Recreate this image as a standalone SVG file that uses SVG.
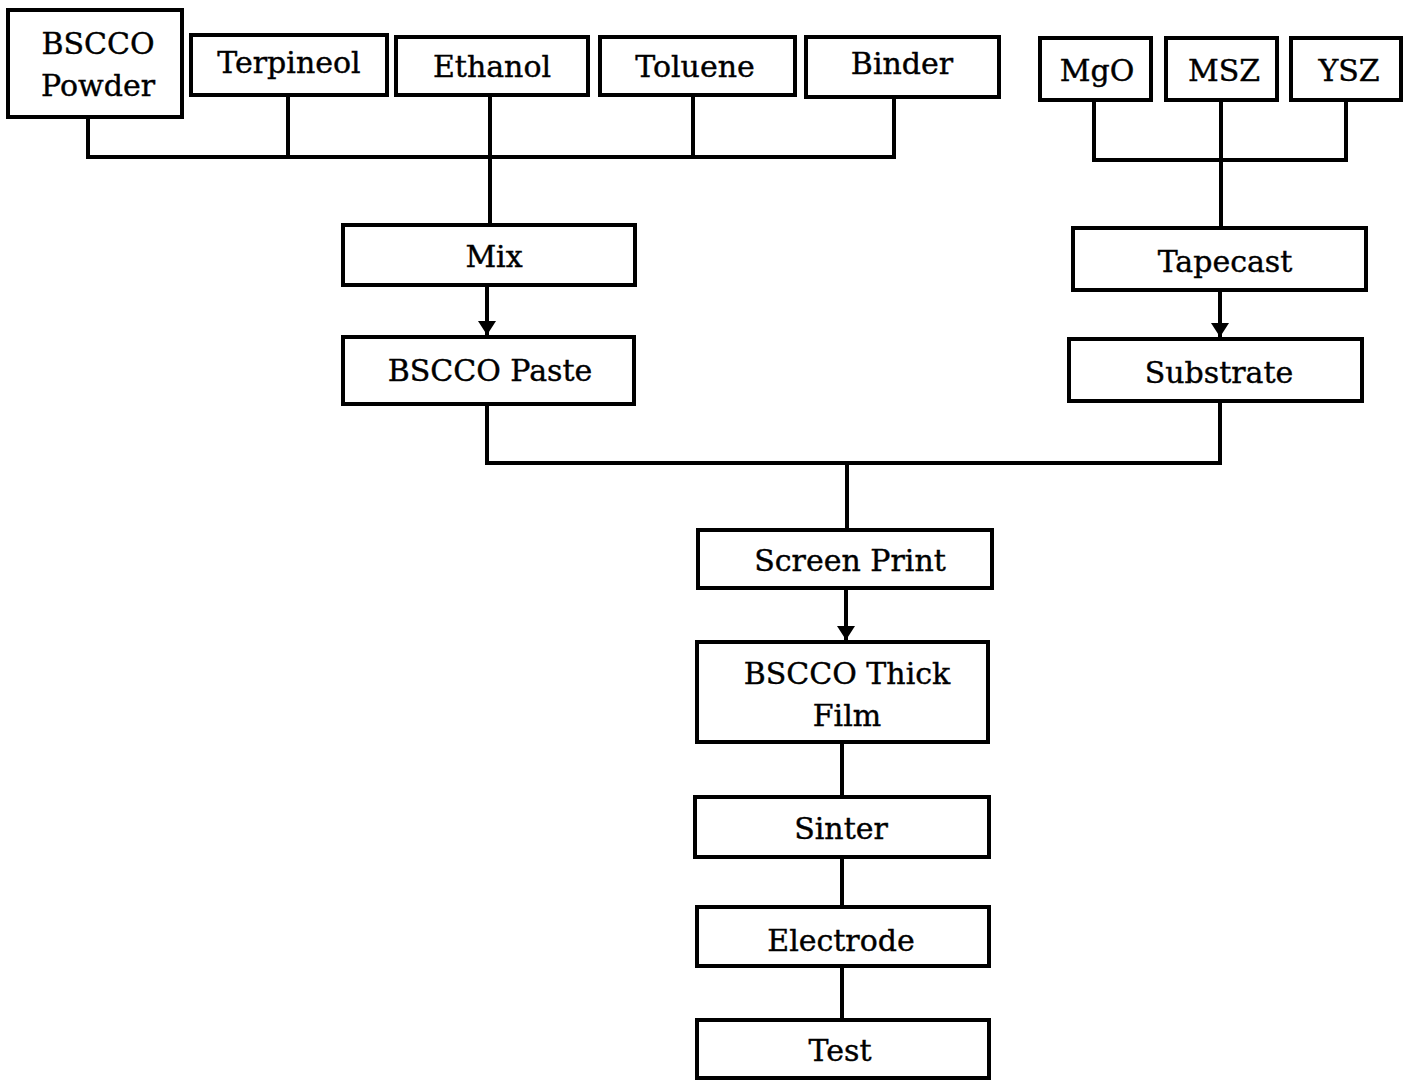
<svg xmlns="http://www.w3.org/2000/svg" width="1409" height="1081" viewBox="0 0 1409 1081">
<style>
.box{fill:#fff;stroke:#000;stroke-width:4}
.t{font-family:"DejaVu Serif","Liberation Serif",serif;font-size:30px;fill:#000;stroke:#000;stroke-width:0.4;text-anchor:middle}
.c{fill:none;stroke:#000;stroke-width:4}
</style>
<defs>
<marker id="ah" markerWidth="14" markerHeight="18" refX="14" refY="9" orient="auto" markerUnits="userSpaceOnUse">
<path d="M0,0 L14,9 L0,18 Z" fill="#000"/>
</marker>
</defs>
<rect width="1409" height="1081" fill="#fff"/>
<g id="connectors">
<path class="c" d="M88,117 V157 H894 V97 M288,95 V157 M693,95 V157 M490,95 V225"/>
<path class="c" d="M1094,100 V160 H1346 V100 M1221,100 V228"/>
<path class="c" d="M487,285 V335" marker-end="url(#ah)"/>
<path class="c" d="M1220,290 V337" marker-end="url(#ah)"/>
<path class="c" d="M487,404 V463 H1220 V401 M847,463 V530"/>
<path class="c" d="M846,588 V640" marker-end="url(#ah)"/>
<path class="c" d="M842,742 V797 M842,857 V907 M842,966 V1020"/>
</g>
<g id="bscco-powder"><rect class="box" x="8" y="10" width="174" height="107"/><text class="t" x="98" y="54">BSCCO</text><text class="t" x="98" y="96">Powder</text></g>
<g id="terpineol"><rect class="box" x="191" y="35" width="196" height="60"/><text class="t" x="289" y="73">Terpineol</text></g>
<g id="ethanol"><rect class="box" x="396" y="37" width="192" height="58"/><text class="t" x="492" y="77">Ethanol</text></g>
<g id="toluene"><rect class="box" x="600" y="37" width="195" height="58"/><text class="t" x="695" y="77">Toluene</text></g>
<g id="binder"><rect class="box" x="806" y="37" width="193" height="60"/><text class="t" x="902" y="74">Binder</text></g>
<g id="mgo"><rect class="box" x="1040" y="38" width="111" height="62"/><text class="t" x="1097" y="81">MgO</text></g>
<g id="msz"><rect class="box" x="1166" y="38" width="111" height="62"/><text class="t" x="1224" y="81">MSZ</text></g>
<g id="ysz"><rect class="box" x="1291" y="38" width="110" height="62"/><text class="t" x="1349" y="81">YSZ</text></g>
<g id="mix"><rect class="box" x="343" y="225" width="292" height="60"/><text class="t" x="494" y="267">Mix</text></g>
<g id="bscco-paste"><rect class="box" x="343" y="337" width="291" height="67"/><text class="t" x="490" y="381">BSCCO Paste</text></g>
<g id="tapecast"><rect class="box" x="1073" y="228" width="293" height="62"/><text class="t" x="1225" y="272">Tapecast</text></g>
<g id="substrate"><rect class="box" x="1069" y="339" width="293" height="62"/><text class="t" x="1219" y="383">Substrate</text></g>
<g id="screen-print"><rect class="box" x="698" y="530" width="294" height="58"/><text class="t" x="850" y="571">Screen Print</text></g>
<g id="thick-film"><rect class="box" x="697" y="642" width="291" height="100"/><text class="t" x="847" y="684">BSCCO Thick</text><text class="t" x="847" y="726">Film</text></g>
<g id="sinter"><rect class="box" x="695" y="797" width="294" height="60"/><text class="t" x="841" y="839">Sinter</text></g>
<g id="electrode"><rect class="box" x="697" y="907" width="292" height="59"/><text class="t" x="841" y="951">Electrode</text></g>
<g id="test"><rect class="box" x="697" y="1020" width="292" height="58"/><text class="t" x="840" y="1061">Test</text></g>
</svg>
